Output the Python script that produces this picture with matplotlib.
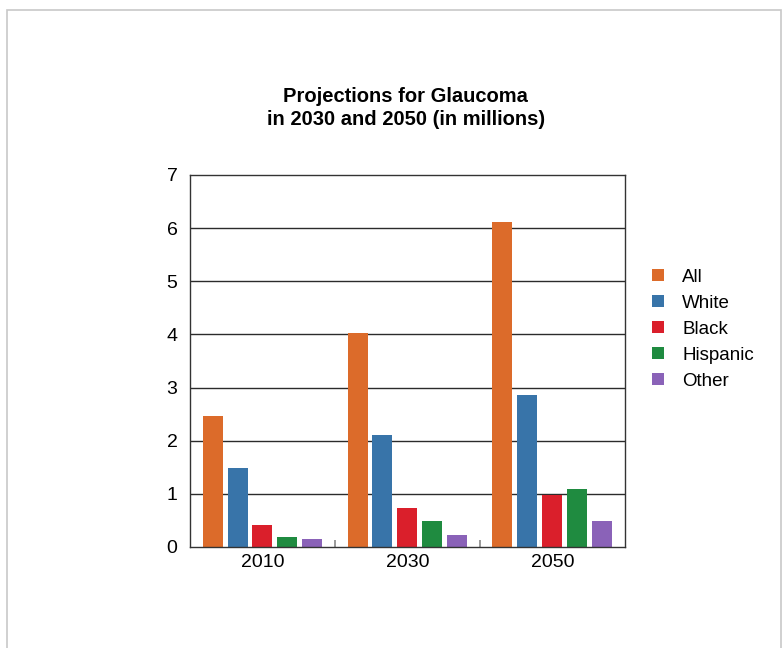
import numpy as np
import matplotlib.pyplot as plt
from matplotlib.patches import Rectangle

plt.rcParams['font.family'] = ['Liberation Sans', 'DejaVu Sans']

years = ["2010", "2030", "2050"]
groups = ["All", "White", "Black", "Hispanic", "Other"]

all_vals = [2.47, 4.03, 6.12]
white_vals = [1.48, 2.10, 2.85]
black_vals = [0.42, 0.74, 0.98]
hispanic_vals = [0.19, 0.48, 1.09]
other_vals = [0.14, 0.22, 0.48]

series = [all_vals, white_vals, black_vals, hispanic_vals, other_vals]
colors = ["#dc6b2a", "#3874a9", "#da1f2b", "#1f8b40", "#8a62b8"]

fig = plt.figure(figsize=(7.82, 6.48), dpi=100)
ax = fig.add_axes([0.243, 0.156, 0.556, 0.574])

x = np.arange(len(years))
width = 0.138
step = 0.172

# gridlines under the bars
for yv in range(1, 7):
    ax.axhline(yv, color="#2b2b2b", linewidth=1.0, zorder=1)

for i, (vals, c, name) in enumerate(zip(series, colors, groups)):
    ax.bar(x + (i - 2) * step, vals, width, color=c, label=name, zorder=2)

ax.set_xlim(-0.5, 2.5)
ax.set_ylim(0, 7)
ax.set_yticks(range(0, 8))
ax.set_xticks(x)
ax.set_xticklabels(years)
ax.set_xticks([0.5, 1.5], minor=True)
ax.tick_params(axis="x", which="major", length=0, labelsize=14, pad=5)
ax.tick_params(axis="x", which="minor", length=5, direction="in", color="#888888", width=1.2)
ax.tick_params(axis="y", length=0, labelsize=14, pad=9)
for s in ax.spines.values():
    s.set_color("#333333")
    s.set_linewidth(1.0)

fig.text(0.519, 0.833, "Projections for Glaucoma\nin 2030 and 2050 (in millions)",
         ha="center", va="center", fontsize=14.5, fontweight="bold", linespacing=1.25)

fig.legend(loc="upper left", bbox_to_anchor=(0.822, 0.6), frameon=False,
           fontsize=13.5, handlelength=0.65, handleheight=0.65, handletextpad=0.95,
           labelspacing=0.48, borderpad=0)

# thin page border
fig.add_artist(Rectangle((7 / 782, -0.1), 774 / 782, 1.1 - 10 / 648,
                         transform=fig.transFigure, fill=False,
                         edgecolor="#c8c8c8", linewidth=1.2))

fig.savefig("out.png", dpi=100)
